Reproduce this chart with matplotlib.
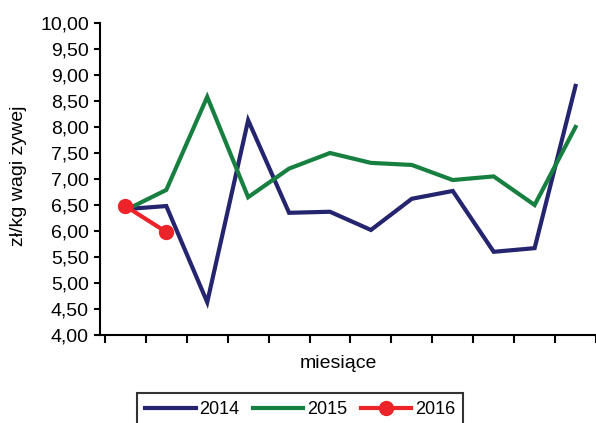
import matplotlib.pyplot as plt
import numpy as np

plt.rcParams['font.family'] = ['Liberation Sans', 'DejaVu Sans']

# Dane
miesiace = ['I', 'II', 'III', 'IV', 'V', 'VI', 'VII', 'VIII', 'IX', 'X', 'XI', 'XII']
ceny_2014 = [6.42, 6.48, 4.63, 8.13, 6.35, 6.37, 6.02, 6.62, 6.77, 5.60, 5.67, 8.79]
ceny_2015 = [6.40, 6.79, 8.58, 6.65, 7.20, 7.50, 7.31, 7.27, 6.98, 7.05, 6.50, 8.00]
ceny_2016 = [6.48, 5.98]
y_ticks = np.arange(4.0, 10.01, 0.5)

fig = plt.figure(figsize=(5.96, 4.23), dpi=100)
ax = fig.add_axes([100 / 596, 1 - 335 / 423, 496 / 596, 312 / 423])

x = np.arange(len(miesiace))
ax.plot(x, ceny_2014, color='#25246f', lw=3, label='2014', solid_joinstyle='miter')
ax.plot(x, ceny_2015, color='#178040', lw=3, label='2015', solid_joinstyle='miter')
ax.plot(x[:len(ceny_2016)], ceny_2016, color='#ec2328', lw=3, marker='o', ms=10,
        label='2016')

ax.set_ylim(4.0, 10.0)
ax.set_xlim(-0.62, 11.5)
ax.set_yticks(y_ticks)
ax.set_yticklabels([f'{v:.2f}'.replace('.', ',') for v in y_ticks], fontsize=14)
ax.set_xticks(np.arange(-0.5, 11.6, 1.0))
ax.set_xticklabels([])
ax.tick_params(axis='y', length=4, width=1.5, pad=4)
ax.tick_params(axis='x', length=6, width=1.5)

for s in ['top', 'right']:
    ax.spines[s].set_visible(False)
for s in ['left', 'bottom']:
    ax.spines[s].set_linewidth(1.5)

fig.text(19 / 596, 1 - 176 / 423, 'zł/kg wagi zywej', rotation=90, fontsize=14,
         ha='center', va='center')
fig.text(338 / 596, 1 - 363 / 423, 'miesiące', fontsize=14, ha='center', va='center')

leg = fig.legend(loc='upper center', bbox_to_anchor=(300 / 596, 1 - 393 / 423), ncol=3,
                 fontsize=13, frameon=True, fancybox=False, edgecolor='black',
                 handlelength=2.8, handletextpad=0.2, columnspacing=0.75,
                 borderpad=0.45, borderaxespad=0)
leg.get_frame().set_linewidth(1.5)

fig.savefig('out.png', dpi=100)
